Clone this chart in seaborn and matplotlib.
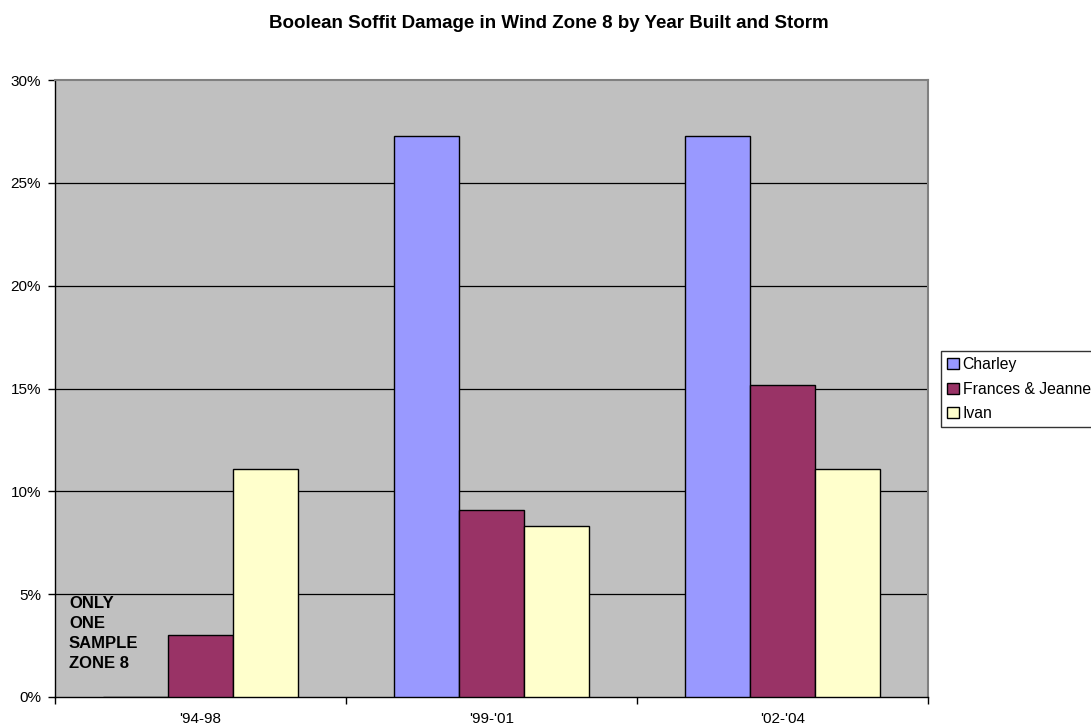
import numpy as np
import pandas as pd
import matplotlib
matplotlib.use('Agg')
import matplotlib.pyplot as plt
import seaborn as sns
from matplotlib.ticker import FixedLocator, PercentFormatter

sns.set_style('white')
plt.rcParams['font.family'] = ['Liberation Sans', 'DejaVu Sans']
plt.rcParams['text.color'] = 'black'
plt.rcParams['xtick.color'] = 'black'
plt.rcParams['ytick.color'] = 'black'

years = ["'94-98", "'99-'01", "'02-'04"]
storms = ['Charley', 'Frances & Jeanne', 'Ivan']
charley = [0.0, 27.27, 27.27]
frances = [3.03, 9.09, 15.15]
ivan = [11.11, 8.33, 11.11]
colors = ['#9999FF', '#993366', '#FFFFCC']

df = pd.DataFrame({
    'year': years * 3,
    'storm': [s for s in storms for _ in years],
    'pct': charley + frances + ivan,
})

fig = plt.figure(figsize=(10.91, 7.25), dpi=100)
ax = fig.add_axes([55 / 1091, 1 - 697 / 725, (928 - 55) / 1091, (697 - 80) / 725])
ax.set_facecolor('#C0C0C0')

sns.barplot(data=df, x='year', y='pct', hue='storm', hue_order=storms,
            palette=colors, order=years, width=0.667, errorbar=None,
            edgecolor='black', linewidth=1, saturation=1, ax=ax, zorder=3)

ax.set_xlim(-0.5, 2.5)
ax.set_ylim(0, 30)
ax.set_yticks(np.arange(0, 31, 5))
ax.yaxis.set_major_formatter(PercentFormatter(decimals=0))
for v in range(5, 30, 5):
    ax.axhline(v, color='black', linewidth=0.9, zorder=1)

ax.xaxis.set_minor_locator(FixedLocator([-0.5, 0.5, 1.5, 2.5]))
ax.tick_params(axis='x', which='major', length=0, pad=11, labelsize=11, labelcolor='black')
ax.tick_params(axis='x', which='minor', length=5, width=1, direction='out', bottom=True, color='black')
ax.tick_params(axis='y', length=5, width=1, direction='out', left=True, labelsize=11, pad=5,
               color='black', labelcolor='black')
ax.set_xlabel('')
ax.set_ylabel('')

for side in ['left', 'bottom']:
    ax.spines[side].set_color('black')
    ax.spines[side].set_linewidth(1)
for side in ['top', 'right']:
    ax.spines[side].set_color('#808080')
    ax.spines[side].set_linewidth(1.5)

ax.text(-0.452, 4.92, 'ONLY\nONE\nSAMPLE\nZONE 8', fontsize=12, fontweight='bold', color='black',
        va='top', ha='left', linespacing=1.42, zorder=4)

handles, labels = ax.get_legend_handles_labels()
ax.get_legend().remove()
leg = fig.legend(handles, labels, loc='upper left', bbox_to_anchor=(941 / 1091, 1 - 351 / 725),
                 frameon=True, fancybox=False, fontsize=11.3, handlelength=0.72, handleheight=0.72,
                 handletextpad=0.25, labelspacing=0.6, borderpad=0.4, borderaxespad=0,
                 labelcolor='black')
leg.get_frame().set_edgecolor('black')
leg.get_frame().set_linewidth(1)

fig.text(549 / 1091, 1 - 28.5 / 725, 'Boolean Soffit Damage in Wind Zone 8 by Year Built and Storm',
         ha='center', va='baseline', fontsize=13.5, fontweight='bold', color='black')

fig.savefig('out.png', dpi=100)
